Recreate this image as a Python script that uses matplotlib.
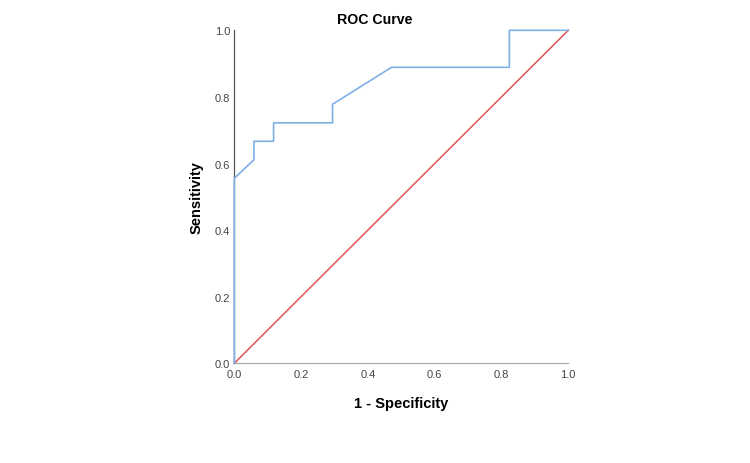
import matplotlib
matplotlib.use("Agg")
import matplotlib.pyplot as plt

plt.rcParams['font.family'] = ['Liberation Sans', 'DejaVu Sans']

fpr = [0.0, 0.0, 1/17, 1/17, 2/17, 2/17, 5/17, 5/17, 8/17, 14/17, 14/17, 1.0]
tpr = [0.0, 10/18, 11/18, 12/18, 12/18, 13/18, 13/18, 14/18, 16/18, 16/18, 1.0, 1.0]
ref = [0.0, 1.0]
ticks = [0.0, 0.2, 0.4, 0.6, 0.8, 1.0]
tick_labels = ["0.0", "0.2", "0.4", "0.6", "0.8", "1.0"]

fig = plt.figure(figsize=(7.5, 4.64), dpi=100)
ax = fig.add_axes([0.3124, 0.2149, 0.4453, 0.7176])
ax.plot(fpr, tpr, color='#7eb0e6', lw=1.2, clip_on=False, zorder=3)
ax.plot(ref, ref, color='#e05555', lw=1.1, clip_on=False, zorder=2)
ax.set_xlim(0, 1)
ax.set_ylim(0, 1)
ax.set_xticks(ticks)
ax.set_xticklabels(tick_labels)
ax.set_yticks(ticks)
ax.set_yticklabels(tick_labels)
ax.tick_params(length=0, labelsize=8, colors='#444444', pad=3)
ax.tick_params(axis='x', pad=4)
for s in ['top', 'right']:
    ax.spines[s].set_visible(False)
ax.spines['left'].set_color('#555555')
ax.spines['bottom'].set_color('#aaaaaa')
ax.spines['left'].set_linewidth(0.9)
ax.spines['bottom'].set_linewidth(0.9)
fig.text(0.5, 1 - 20/464, "ROC Curve", fontsize=10.2, fontweight='bold',
         ha='center', va='center')
ax.set_xlabel("1 - Specificity", fontsize=10.5, fontweight='bold', labelpad=12)
ax.set_ylabel("Sensitivity", fontsize=10.5, fontweight='bold', labelpad=8)
fig.savefig("out.png", dpi=100)
